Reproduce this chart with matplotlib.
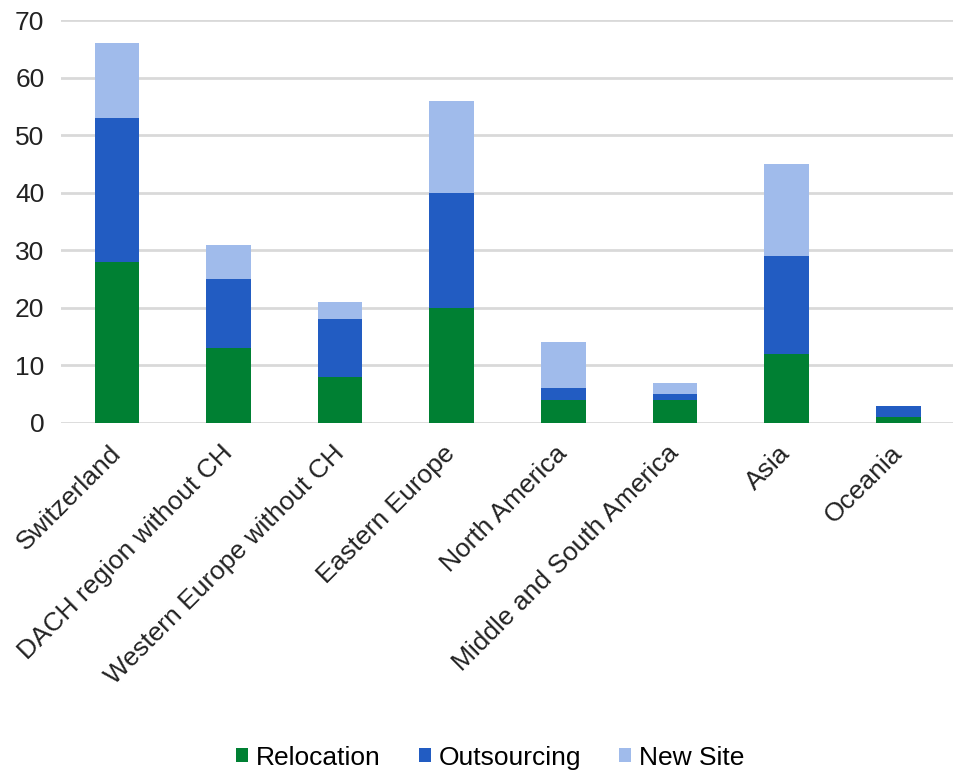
import matplotlib.pyplot as plt
import numpy as np

plt.rcParams['font.family'] = ['Liberation Sans', 'DejaVu Sans']

regions = ['Switzerland', 'DACH region without CH', 'Western Europe without CH',
           'Eastern Europe', 'North America', 'Middle and South America',
           'Asia', 'Oceania']
relocation = [28, 13, 8, 20, 4, 4, 12, 1]
outsourcing = [25, 12, 10, 20, 2, 1, 17, 2]
new_site = [13, 6, 3, 16, 8, 2, 16, 0]

colors = ['#008033', '#225cc2', '#a0bbeb']

fig = plt.figure(figsize=(9.54, 7.74), dpi=100)
ax = fig.add_axes([0.064, 0.4535, 0.936, 0.5205])

x = np.arange(len(regions))
w = 0.4
reloc = np.array(relocation)
outs = np.array(outsourcing)
ax.bar(x, reloc, w, color=colors[0], label='Relocation', zorder=3)
ax.bar(x, outs, w, bottom=reloc, color=colors[1], label='Outsourcing', zorder=3)
ax.bar(x, new_site, w, bottom=reloc + outs, color=colors[2], label='New Site', zorder=3)

ax.set_xlim(-0.5, len(regions) - 0.5)
ax.set_ylim(0, 70)
ax.set_yticks(range(0, 71, 10))
ax.yaxis.grid(True, color='#d9d9d9', linewidth=2, zorder=0)
ax.set_axisbelow(True)
for s in ax.spines.values():
    s.set_visible(False)
ax.tick_params(axis='both', length=0, labelsize=19, colors='#222222')
ax.tick_params(axis='y', pad=12)
ax.set_xticks(x)
ax.set_xticklabels(regions, rotation=45, ha='right', va='center',
                   rotation_mode='anchor')
ax.tick_params(axis='x', pad=19)

fig.legend(loc='center', bbox_to_anchor=(0.514, 0.021), ncol=3, frameon=False,
           fontsize=19, handlelength=0.45, handleheight=0.45, handletextpad=0.3,
           columnspacing=1.45)

fig.savefig('out.png', dpi=100)
